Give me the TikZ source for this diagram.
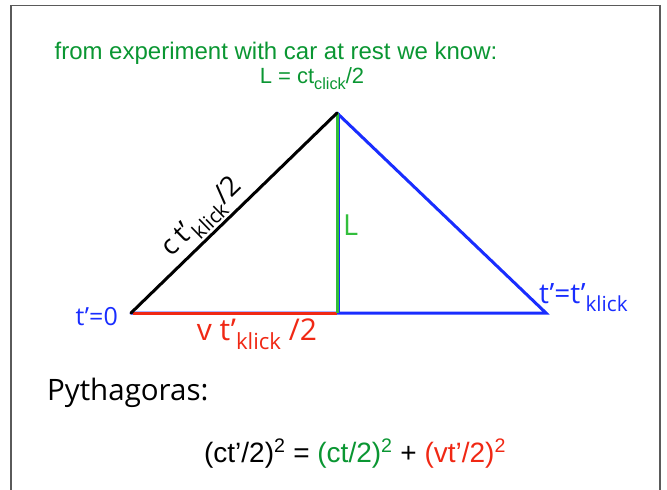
\documentclass[tikz,border=0pt]{standalone}
\usepackage{fontspec}
\setmainfont{Liberation Sans}
\newfontfamily\lucida{Open Sans}
\newcommand\lsub[1]{\raisebox{-0.3em}{\scalebox{0.74}{#1}}}
\definecolor{myblue}{RGB}{25,45,255}
\definecolor{myred}{RGB}{240,40,20}
\definecolor{mygreen}{RGB}{10,150,50}
\definecolor{linegreen}{RGB}{50,190,60}
\definecolor{framegray}{RGB}{90,90,90}
\begin{document}
\begin{tikzpicture}[x=1pt,y=-1pt,
  side/.style={line width=3pt},
  lbl/.style={inner sep=1pt},
  sz/.style={font=\fontsize{#1}{#1}\selectfont},
  lsz/.style={font=\lucida\fontsize{#1}{#1}\selectfont}]
\useasboundingbox (0,0) rectangle (667,490);
\draw[framegray,line width=1.5pt] (11,490) -- (11,5.5) -- (660,5.5) -- (660,490);
\coordinate (A) at (131,313);
\coordinate (B) at (337,113);
\coordinate (C) at (546,313);
\coordinate (D) at (337,313);
\coordinate (B2) at (338.5,113);
\coordinate (D2) at (338.5,313);
\draw[side,myblue,line cap=round] (A) -- (C) -- (B);
\draw[side,myblue] (B2) -- (D2);
\draw[side,myred] ([xshift=2pt]A) -- (D);
\draw[side,linegreen] (B) -- (D);
\draw[side,black,line cap=round] (A) -- node[lbl,sloped,above=1pt,pos=0.41,lsz=27.5]{c\,t’\lsub{klick}/2} (B);
\node[lbl,mygreen,sz=24,anchor=base] (t1) at (276,59) {from experiment with car at rest we know:};
\node[lbl,mygreen,sz=22,anchor=base] (t2) at (312,83) {L = ct\lsub{click}/2};
\node[lbl,linegreen,lsz=29,anchor=base west] (lL) at (342,235) {L};
\node[lbl,myblue,lsz=25,anchor=base east] (t0) at (119,325) {t’=0};
\node[lbl,myblue,lsz=28,anchor=base west] (tk) at (538,303) {t’=t’\lsub{klick}};
\node[lbl,myred,lsz=30,anchor=base] (vt) at (257,340) {v t’\lsub{klick} /2};
\node[lbl,black,lsz=29.5,anchor=base west] (py) at (46,400) {Pythagoras:};
\node[lbl,sz=28,anchor=base] (eq) at (355,462) {(ct’/2)\textsuperscript{2} = \textcolor{mygreen}{(ct/2)\textsuperscript{2}} + \textcolor{myred}{(vt’/2)\textsuperscript{2}}};
\end{tikzpicture}
\end{document}
